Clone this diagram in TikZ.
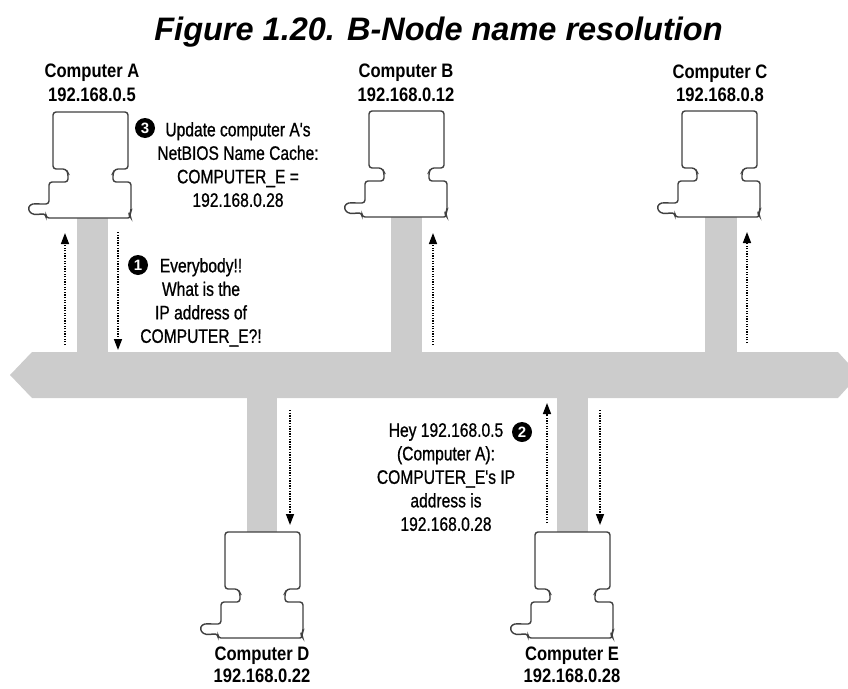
\documentclass[tikz,border=0pt]{standalone}
\usepackage{fontspec}
\setmainfont{Liberation Sans}
\newfontfamily\msgfont[FakeStretch=0.8,FakeBold=0.8]{Liberation Sans}
\newfontfamily\lblfont[FakeStretch=0.85]{Liberation Sans}
\usetikzlibrary{arrows.meta}
\begin{document}
\begin{tikzpicture}[x=1pt,y=-1pt,
  comp/.style={draw=black!75,line width=1.4pt,rounded corners=3pt,fill=white},
  stub/.style={fill=black!20,draw=none},
  msg/.style={inner sep=0pt,align=center,font=\msgfont\fontsize{19.5}{23.5}\selectfont},
  lbl/.style={inner sep=0pt,anchor=base,font=\lblfont\bfseries\fontsize{19.5}{23.5}\selectfont},
  num/.style={circle,fill=black,text=white,inner sep=0pt,minimum size=20pt,font=\bfseries\fontsize{15}{15}\selectfont},
  flow/.style={line width=1.5pt,dash pattern=on 1.3pt off 1.3pt,-{Triangle[length=11pt,width=8pt]}},
  computer/.pic={
    \draw[comp] (0,0) -- (75,0) -- (75,57) -- (62,57) -- (60,61) -- (60,70) -- (78,70)
      -- (78,100) -- (76,103) -- (78,106) -- (-7,106) -- (-7,102) -- (-12,102)
      .. controls (-26,104) and (-28,91) .. (-14,92) -- (-4,92) -- (-4,70) -- (15,70)
      -- (15,61) -- (13,57) -- (0,57) -- cycle;
  }
]
\useasboundingbox (0,0) rectangle (848,688);

% title
\node[inner sep=0pt,anchor=base,font=\bfseries\itshape\fontsize{32.5}{36}\selectfont] (title) at (438.5,40) {Figure 1.20. B-Node name resolution};

% bus and stubs
\fill[black!20] (10,375) -- (32,352) -- (838,352) -- (848,363) -- (848,387) -- (838,398) -- (32,398) -- cycle;
\fill[stub] (77,216) rectangle (108,353);
\fill[stub] (391,215) rectangle (422,353);
\fill[stub] (705,215) rectangle (737,353);
\fill[stub] (247,397) rectangle (277,534);
\fill[stub] (557,397) rectangle (588,534);

% computers
\pic (compA) at (53,112) {computer};
\pic (compB) at (369,111) {computer};
\pic (compC) at (682,111) {computer};
\pic (compD) at (225,532) {computer};
\pic (compE) at (535,532) {computer};

% labels
\node[lbl] (lA1) at (92,77) {Computer A};
\node[lbl] (lA2) at (92,101) {192.168.0.5};
\node[lbl] (lB1) at (406,77) {Computer B};
\node[lbl] (lB2) at (406,101) {192.168.0.12};
\node[lbl] (lC1) at (720,78) {Computer C};
\node[lbl] (lC2) at (720,101) {192.168.0.8};
\node[lbl] (lD1) at (262,660) {Computer D};
\node[lbl] (lD2) at (262,682) {192.168.0.22};
\node[lbl] (lE1) at (572,660) {Computer E};
\node[lbl] (lE2) at (572,682) {192.168.0.28};

% arrow end points
\coordinate (a1s) at (65,345);  \coordinate (a1e) at (65,233);
\coordinate (a2s) at (118,232); \coordinate (a2e) at (118,350);
\coordinate (b1s) at (433,345); \coordinate (b1e) at (433,233);
\coordinate (c1s) at (747,343); \coordinate (c1e) at (747,232);
\coordinate (d1s) at (290,410); \coordinate (d1e) at (290,525);
\coordinate (e1s) at (547,523); \coordinate (e1e) at (547,403);
\coordinate (e2s) at (600,410); \coordinate (e2e) at (600,525);
\draw[flow] (a1s) -- (a1e);
\draw[flow] (a2s) -- (a2e);
\draw[flow] (b1s) -- (b1e);
\draw[flow] (c1s) -- (c1e);
\draw[flow] (d1s) -- (d1e);
\draw[flow] (e1s) -- (e1e);
\draw[flow] (e2s) -- (e2e);

% messages
\node[msg,anchor=north] (m3) at (238,122) {Update computer A's\\NetBIOS Name Cache:\\COMPUTER\_E =\\192.168.0.28};
\node[num] (n3) at (145,128) {3};
\node[msg,anchor=north] (m1) at (201,258) {Everybody!!\\What is the\\IP address of\\COMPUTER\_E?!};
\node[num] (n1) at (138,265) {1};
\node[msg,anchor=north] (m2) at (446,423) {Hey 192.168.0.5\\(Computer A):\\COMPUTER\_E's IP\\address is\\192.168.0.28};
\node[num] (n2) at (522,432) {2};
\end{tikzpicture}
\end{document}
